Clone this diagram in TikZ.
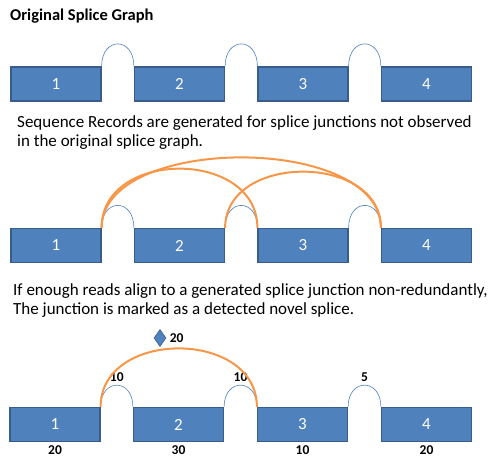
\documentclass[tikz,border=0pt]{standalone}
\usepackage{fontspec}
\setmainfont{Carlito}
\usetikzlibrary{shapes.geometric}
\definecolor{exonblue}{HTML}{4F81BD}
\definecolor{exonedge}{HTML}{385D8A}
\definecolor{novelorange}{HTML}{F79646}
\tikzset{
  exon/.style={draw=exonedge, line width=1.2pt, fill=exonblue, text=white,
    minimum width=90pt, minimum height=34pt, inner sep=0pt,
    font=\fontsize{17}{19}\selectfont},
  intron/.style={draw=exonblue, line width=0.6pt},
  novel/.style={draw=novelorange, line width=2pt},
  count/.style={text=black, font=\fontsize{13.5}{15}\selectfont\bfseries},
  note/.style={anchor=north west, align=left, inner sep=0pt,
    font=\fontsize{17}{19}\selectfont}
}
\begin{document}
\begin{tikzpicture}[x=1pt, y=-1pt]
            \useasboundingbox (0,0) rectangle (500,468);

            % Original graph
            \node[anchor=base west, inner sep=0pt, font=\fontsize{16.5}{19}\selectfont\bfseries] (title) at (10,21) {Original Splice Graph};
            \node[exon] (a1) at (56,84) {1};
            \node[exon] (a2) at (179.5,84) {2};
            \node[exon] (a3) at (303,84) {3};
            \node[exon] (a4) at (426.5,84) {4};

            \draw[intron] (a1.north east) .. controls +(0,-30) and +(0,-30) .. (a2.north west);
            \draw[intron] (a2.north east) .. controls +(0,-30) and +(0,-30) .. (a3.north west);
            \draw[intron] (a3.north east) .. controls +(0,-30) and +(0,-30) .. (a4.north west);

            % Generated junctions
            \node[note] (note1) at (17,115) {Sequence Records are generated for splice junctions not observed\\in the original splice graph.};
            \node[exon] (b1) at (56,245.5) {1};
            \node[exon] (b2) at (179.5,245.5) {2};
            \node[exon] (b3) at (303,245.5) {3};
            \node[exon] (b4) at (426.5,245.5) {4};

            \draw[intron] (b1.north east) .. controls +(0,-30) and +(0,-30) .. (b2.north west);
            \draw[intron] (b2.north east) .. controls +(0,-30) and +(0,-30) .. (b3.north west);
            \draw[intron] (b3.north east) .. controls +(0,-30) and +(0,-30) .. (b4.north west);

            \draw[novel] (b1.north east) .. controls +(0,-94) and +(0,-94) .. (b4.north west);
            \draw[novel] (b1.north east) .. controls +(0,-79) and +(0,-79) .. (b3.north west);
            \draw[novel] (b2.north east) .. controls +(0,-75) and +(0,-75) .. (b4.north west);

            % Detected novel splice
            \node[note] (note2) at (13,283) {If enough reads align to a generated splice junction non-redundantly,\\The junction is marked as a detected novel splice.};
            \node[exon, label={[count]below:20}] (c1) at (55,424.5) {1};
            \node[exon, label={[count]below:30}] (c2) at (178.5,424.5) {2};
            \node[exon, label={[count]below:10}] (c3) at (302.5,424.5) {3};
            \node[exon, label={[count]below:20}] (c4) at (426.5,424.5) {4};

            \draw[intron] (c1.north east) .. controls +(0,-29) and +(0,-29) .. node[count, pos=0.5, above=0pt] (j1) {10} (c2.north west);
            \draw[intron] (c2.north east) .. controls +(0,-29) and +(0,-29) .. node[count, pos=0.5, above=0pt] (j2) {10} (c3.north west);
            \draw[intron] (c3.north east) .. controls +(0,-29) and +(0,-29) .. node[count, pos=0.5, above=0pt] (j3) {5} (c4.north west);

            \draw[novel] (c1.north east) .. controls +(0,-78) and +(0,-78) .. (c3.north west);
            \node[diamond, fill=exonblue, draw=exonedge, line width=0.6pt, minimum width=12pt, minimum height=17pt, inner sep=0pt, label={[count]right:20}] (d) at (160,338) {};

        \end{tikzpicture}
\end{document}
